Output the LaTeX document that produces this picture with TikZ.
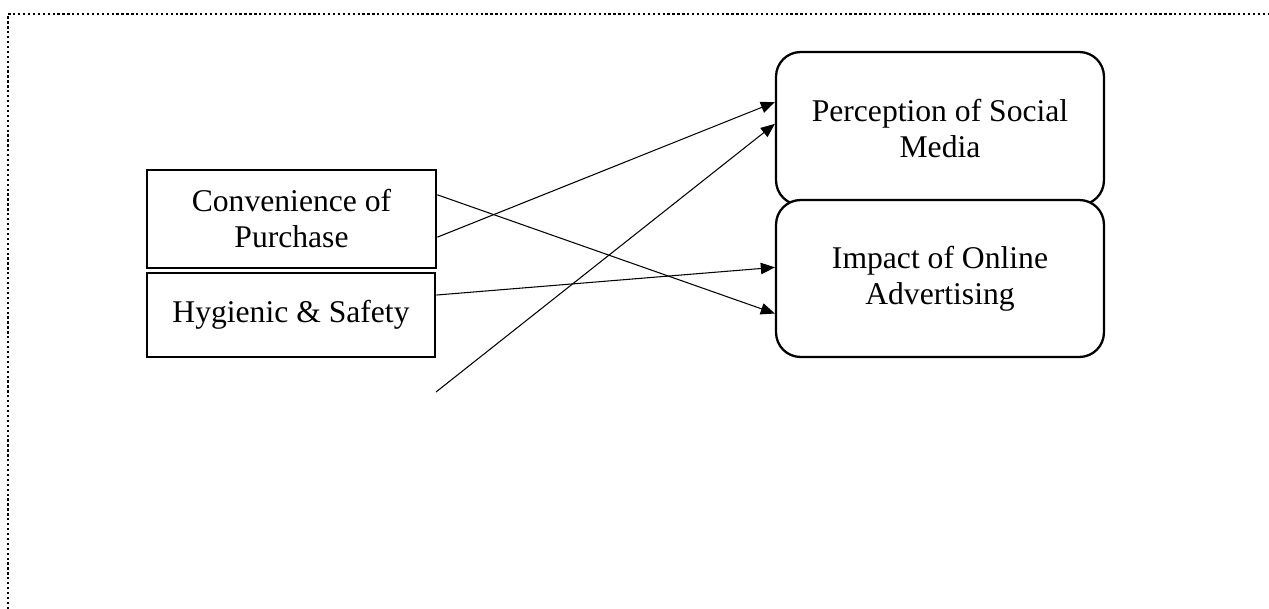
\documentclass[tikz,border=0pt]{standalone}
\usepackage{fontspec}
\setmainfont{Liberation Serif}
\usetikzlibrary{arrows.meta,calc}

\tikzset{
  sqbox/.style={draw,line width=1.6pt,align=center,inner sep=0pt},
  rndbox/.style={draw,line width=1.3pt,rounded corners=14pt,align=center,inner sep=0pt,
    minimum width=6.56cm},
  link/.style={line width=0.6pt,-{Triangle[length=8pt,width=6.5pt]}}
}

\begin{document}
\begin{tikzpicture}[x=0.02cm,y=-0.02cm,font=\fontsize{18}{20.5}\selectfont]
\useasboundingbox (0,0) rectangle (1269,609);
% frame
\draw[line width=1.3pt,dash pattern=on 1.3pt off 1.5pt] (8,609) -- (8,14) -- (1269,14);
% boxes
\node[sqbox,minimum width=5.78cm,minimum height=1.96cm] (conv) at (291.5,219) {Convenience of\\Purchase};
\node[sqbox,minimum width=5.76cm,minimum height=1.68cm] (hyg) at (291,315) {Hygienic \& Safety};
\node[rndbox,minimum height=3.06cm] (percep) at (940,128.5) {Perception of Social\\Media};
\node[rndbox,fill=white,minimum height=3.14cm] (impact) at (940,278.5) {Impact of Online\\Advertising};
\coordinate (loose) at (436,392);
% links
\draw[link] ($(conv.south east)!0.32!(conv.north east)$) -- ($(percep.south west)!0.67!(percep.north west)$);
\draw[link] (loose) -- ($(percep.south west)!0.53!(percep.north west)$);
\draw[link] ($(conv.south east)!0.74!(conv.north east)$) -- ($(impact.south west)!0.28!(impact.north west)$);
\draw[link] ($(hyg.south east)!0.73!(hyg.north east)$) -- ($(impact.south west)!0.57!(impact.north west)$);
\end{tikzpicture}
\end{document}
